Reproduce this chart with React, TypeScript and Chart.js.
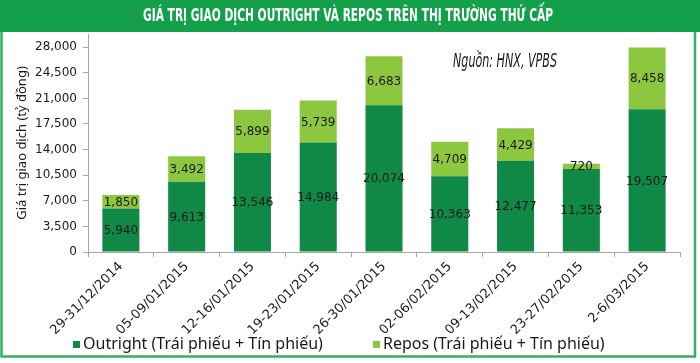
import React, { useEffect, useRef } from 'react';
import { Chart, registerables } from 'chart.js';

Chart.register(...registerables);

const categories = [
  '29-31/12/2014',
  '05-09/01/2015',
  '12-16/01/2015',
  '19-23/01/2015',
  '26-30/01/2015',
  '02-06/02/2015',
  '09-13/02/2015',
  '23-27/02/2015',
  '2-6/03/2015',
];
const outrightValues = [5940, 9613, 13546, 14984, 20074, 10363, 12477, 11353, 19507];
const reposValues = [1850, 3492, 5899, 5739, 6683, 4709, 4429, 720, 8458];
const yTickValues = [0, 3500, 7000, 10500, 14000, 17500, 21000, 24500, 28000];
const yMax = 29800;

const titleText = 'GIÁ TRỊ GIAO DỊCH OUTRIGHT VÀ REPOS TRÊN THỊ TRƯỜNG THỨ CẤP';
const sourceText = 'Nguồn: HNX, VPBS';
const yAxisTitle = 'Giá trị giao dịch (tỷ đồng)';
const seriesNames = ['Outright (Trái phiếu + Tín phiếu)', 'Repos (Trái phiếu + Tín phiếu)'];

const DARK = '#0f8945';
const LIGHT = '#8dc63f';
const FRAME = '#14a04b';
const BORDER = '#33b06a';
const TEXT = '#1a1a1a';

const fmt = (v: number) => v.toLocaleString('en-US');

const framePlugin = {
  id: 'frame',
  beforeDraw(chart: any) {
    const { ctx, width, height } = chart;
    ctx.save();
    ctx.fillStyle = '#ffffff';
    ctx.fillRect(0, 0, width, height);
    ctx.fillStyle = FRAME;
    ctx.fillRect(0, 0, width, 32);
    ctx.restore();
  },
  afterDraw(chart: any) {
    const { ctx } = chart;
    ctx.save();
    ctx.strokeStyle = BORDER;
    ctx.lineWidth = 2.5;
    ctx.beginPath();
    ctx.moveTo(1.5, 32);
    ctx.lineTo(1.5, 356.5);
    ctx.lineTo(695, 356.5);
    ctx.lineTo(695, 32);
    ctx.stroke();

    ctx.fillStyle = '#ffffff';
    ctx.font = 'bold 17px "Liberation Sans Narrow", "DejaVu Sans Condensed", sans-serif';
    ctx.textAlign = 'center';
    ctx.textBaseline = 'middle';
    ctx.fillText(titleText, 348, 17, 410);

    ctx.fillStyle = TEXT;
    ctx.font = 'italic 19px "Liberation Sans Narrow", "DejaVu Sans Condensed", sans-serif';
    ctx.textAlign = 'left';
    ctx.fillText(sourceText, 453, 62, 104);

    // legend (drawn from the datasets)
    const legendX = [73, 373];
    ctx.font = '16px "Noto Sans", sans-serif';
    ctx.textBaseline = 'middle';
    chart.data.datasets.forEach((ds: any, i: number) => {
      const x = legendX[i];
      ctx.fillStyle = ds.backgroundColor;
      ctx.fillRect(x, 341, 7, 7);
      ctx.fillStyle = TEXT;
      ctx.fillText(ds.label, x + 10, 344);
    });
    ctx.restore();
  },
};

const segLabelPlugin = {
  id: 'segLabels',
  afterDatasetsDraw(chart: any) {
    const ctx = chart.ctx;
    ctx.save();
    ctx.font = '12px "DejaVu Sans", Verdana, sans-serif';
    ctx.fillStyle = TEXT;
    ctx.textAlign = 'center';
    ctx.textBaseline = 'middle';
    chart.data.datasets.forEach((ds: any, di: number) => {
      chart.getDatasetMeta(di).data.forEach((el: any, i: number) => {
        const v = ds.data[i] as number;
        ctx.fillText(fmt(v), el.x, (el.y + el.base) / 2 + 1);
      });
    });
    ctx.restore();
  },
};

export default function App() {
  const ref = useRef<HTMLCanvasElement>(null);

  useEffect(() => {
    document.body.style.margin = '0';
    const chart = new Chart(ref.current as HTMLCanvasElement, {
      type: 'bar',
      data: {
        labels: categories,
        datasets: [
          {
            label: seriesNames[0],
            data: outrightValues,
            backgroundColor: DARK,
            borderWidth: 0,
            barPercentage: 0.563,
            categoryPercentage: 1,
          },
          {
            label: seriesNames[1],
            data: reposValues,
            backgroundColor: LIGHT,
            borderWidth: 0,
            barPercentage: 0.563,
            categoryPercentage: 1,
          },
        ],
      },
      options: {
        responsive: false,
        animation: false,
        devicePixelRatio: 1,
        layout: { padding: { top: 34, left: 0, right: 20, bottom: 11 } },
        plugins: {
          title: { display: false },
          tooltip: { enabled: false },
          legend: { display: false },
        },
        scales: {
          x: {
            stacked: true,
            offset: true,
            afterFit: (scale: any) => {
              scale.height = 100;
            },
            grid: {
              display: true,
              offset: true,
              drawOnChartArea: false,
              drawTicks: true,
              tickLength: 5,
              color: '#a6a6a6',
            },
            border: { display: true, color: '#a6a6a6' },
            ticks: {
              autoSkip: false,
              maxRotation: 45,
              minRotation: 45,
              padding: 2,
              color: TEXT,
              font: { family: '"DejaVu Sans", Verdana, sans-serif', size: 13 },
            },
          },
          y: {
            stacked: true,
            min: 0,
            max: yMax,
            afterFit: (scale: any) => {
              scale.width = 88;
            },
            afterBuildTicks: (scale: any) => {
              scale.ticks = yTickValues.map((v) => ({ value: v }));
            },
            grid: {
              display: true,
              drawOnChartArea: false,
              drawTicks: true,
              tickLength: 5,
              color: '#a6a6a6',
            },
            border: { display: true, color: '#a6a6a6' },
            ticks: {
              padding: 6,
              color: TEXT,
              font: { family: '"DejaVu Sans", Verdana, sans-serif', size: 12 },
              callback: (v: any) => fmt(Number(v)),
            },
            title: {
              display: true,
              text: yAxisTitle,
              color: TEXT,
              font: { family: '"Noto Sans", sans-serif', size: 13 },
              padding: { top: 14, bottom: 0 },
            },
          },
        },
      },
      plugins: [framePlugin, segLabelPlugin],
    } as any);
    return () => chart.destroy();
  }, []);

  return (
    <div style={{ width: 700, height: 363, position: 'relative', background: '#fff' }}>
      <canvas ref={ref} width={700} height={363} style={{ display: 'block', width: 700, height: 363 }} />
    </div>
  );
}
